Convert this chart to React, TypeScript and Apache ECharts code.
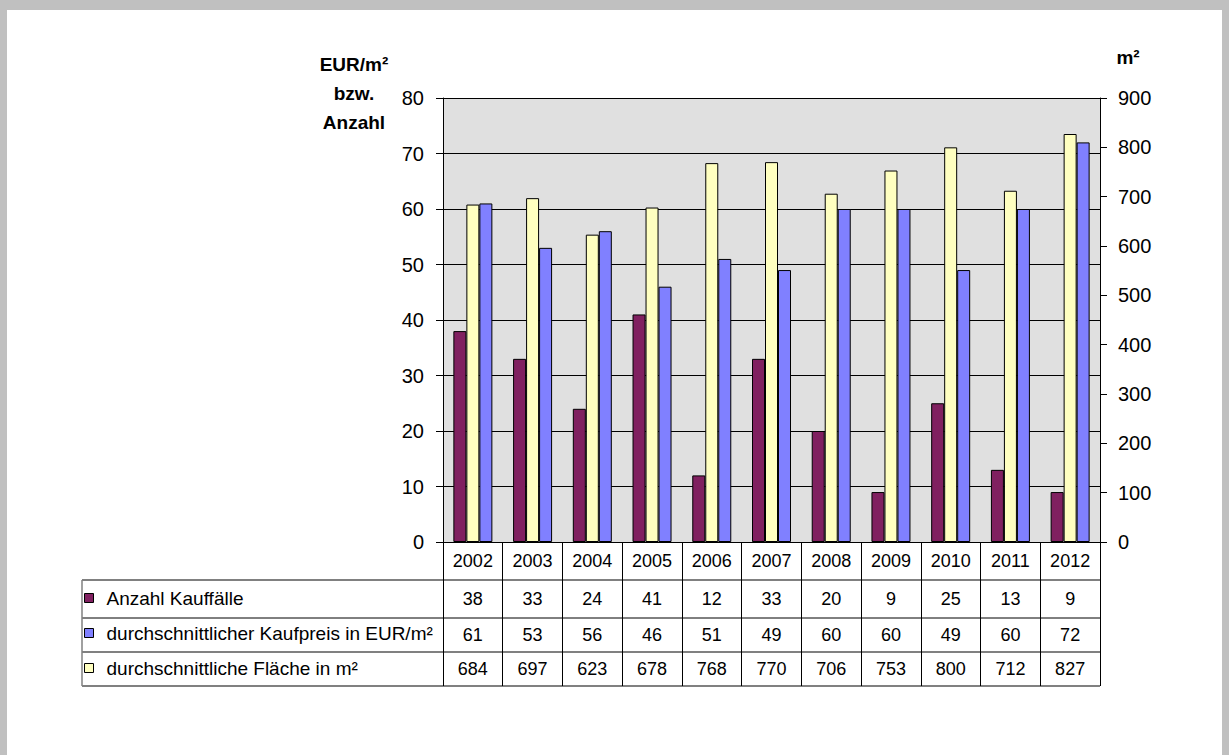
import React, { useEffect, useRef } from "react";
import * as echarts from "echarts";

const years = ["2002", "2003", "2004", "2005", "2006", "2007", "2008", "2009", "2010", "2011", "2012"];
const anzahl = [38, 33, 24, 41, 12, 33, 20, 9, 25, 13, 9];
const kaufpreis = [61, 53, 56, 46, 51, 49, 60, 60, 49, 60, 72];
const flaeche = [684, 697, 623, 678, 768, 770, 706, 753, 800, 712, 827];

const nameAnzahl = "Anzahl Kauffälle";
const nameKaufpreis = "durchschnittlicher Kaufpreis in EUR/m²";
const nameFlaeche = "durchschnittliche Fläche in m²";

const FONT = "'Liberation Sans', Arial, sans-serif";

export default function App() {
  const ref = useRef<HTMLDivElement>(null);
  useEffect(() => {
    if (!ref.current) return;
    const chart = echarts.init(ref.current, null, { renderer: "svg" });
    const rowAxis = (vals: number[], offset: number, margin: number) => ({
      type: "category",
      data: years,
      gridIndex: 0,
      position: "bottom",
      offset,
      axisLine: { show: false },
      axisTick: { show: false },
      splitLine: { show: false },
      axisLabel: {
        interval: 0,
        margin,
        fontSize: 18,
        color: "#000",
        fontFamily: FONT,
        formatter: (_v: string, i: number) => String(vals[i]),
      },
    });
    const barStyle = (color: string) => ({ color, borderColor: "#000", borderWidth: 1 });
    chart.setOption({
      animation: false,
      backgroundColor: "#fff",
      textStyle: { fontFamily: FONT },
      grid: {
        left: 443,
        right: 129,
        top: 98,
        bottom: 213,
        show: true,
        backgroundColor: "#E0E0E0",
        borderWidth: 0,
      },
      legend: {
        orient: "vertical",
        left: 84,
        top: 588,
        padding: 0,
        itemWidth: 9,
        itemHeight: 9,
        itemGap: 15,
        icon: "rect",
        selectedMode: false,
        data: [nameAnzahl, nameKaufpreis, nameFlaeche],
        itemStyle: { borderColor: "#000", borderWidth: 1 },
        textStyle: { fontSize: 19, color: "#000", fontFamily: FONT, lineHeight: 20, padding: [0, 0, 0, 8] },
      },
      xAxis: [
        {
          type: "category",
          data: years,
          position: "bottom",
          axisLine: { show: true, lineStyle: { color: "#000", width: 1 } },
          axisTick: { show: true, length: 144, lineStyle: { color: "#000", width: 1 } },
          axisLabel: { interval: 0, margin: 10, fontSize: 18, color: "#000", fontFamily: FONT },
          splitLine: { show: false },
        },
        rowAxis(anzahl, 38, 10),
        rowAxis(kaufpreis, 76, 8),
        rowAxis(flaeche, 110, 8),
      ],
      yAxis: [
        {
          type: "value",
          position: "left",
          min: 0,
          max: 80,
          interval: 10,
          axisLine: { show: true, lineStyle: { color: "#000", width: 1 } },
          axisTick: { show: true, length: 7, lineStyle: { color: "#000" } },
          axisLabel: { margin: 19, fontSize: 20, color: "#000", fontFamily: FONT },
          splitLine: { show: true, lineStyle: { color: "#000", width: 1 } },
        },
        {
          type: "value",
          position: "right",
          min: 0,
          max: 900,
          interval: 100,
          axisLine: { show: true, lineStyle: { color: "#000", width: 1 } },
          axisTick: { show: true, length: 7, lineStyle: { color: "#000" } },
          axisLabel: { margin: 18, fontSize: 20, color: "#000", fontFamily: FONT },
          splitLine: { show: false },
        },
      ],
      series: [
        {
          name: nameAnzahl,
          type: "bar",
          xAxisIndex: 0,
          yAxisIndex: 0,
          data: anzahl,
          barWidth: 13,
          barGap: "0%",
          itemStyle: barStyle("#802060"),
        },
        {
          name: nameFlaeche,
          type: "bar",
          xAxisIndex: 0,
          yAxisIndex: 1,
          data: flaeche,
          barWidth: 13,
          barGap: "0%",
          itemStyle: barStyle("#FFFFC0"),
        },
        {
          name: nameKaufpreis,
          type: "bar",
          xAxisIndex: 0,
          yAxisIndex: 0,
          data: kaufpreis,
          barWidth: 13,
          barGap: "0%",
          itemStyle: barStyle("#8080FF"),
        },
      ],
      graphic: [
        // outer gray frame
        { type: "rect", shape: { x: 0, y: 0, width: 1229, height: 10 }, style: { fill: "#C0C0C0" }, silent: true },
        { type: "rect", shape: { x: 0, y: 0, width: 7, height: 755 }, style: { fill: "#C0C0C0" }, silent: true },
        { type: "rect", shape: { x: 1222, y: 0, width: 7, height: 755 }, style: { fill: "#C0C0C0" }, silent: true },
        // axis titles
        {
          type: "text",
          x: 354,
          y: 93,
          style: {
            text: "EUR/m²\nbzw.\nAnzahl",
            font: `bold 19px ${FONT}`,
            fill: "#000",
            align: "center",
            verticalAlign: "middle",
            lineHeight: 29,
          },
        },
        {
          type: "text",
          x: 1128,
          y: 57,
          style: { text: "m²", font: `bold 19px ${FONT}`, fill: "#000", align: "center", verticalAlign: "middle" },
        },
        // data table lines
        { type: "line", shape: { x1: 82, y1: 580, x2: 1100, y2: 580 }, style: { stroke: "#808080", lineWidth: 2 } },
        { type: "line", shape: { x1: 82, y1: 618, x2: 1100, y2: 618 }, style: { stroke: "#000", lineWidth: 1 } },
        { type: "line", shape: { x1: 82, y1: 652, x2: 1100, y2: 652 }, style: { stroke: "#808080", lineWidth: 2 } },
        { type: "line", shape: { x1: 82, y1: 686, x2: 1100, y2: 686 }, style: { stroke: "#808080", lineWidth: 2 } },
        { type: "line", shape: { x1: 82, y1: 580, x2: 82, y2: 686 }, style: { stroke: "#808080", lineWidth: 1.5 } },
      ],
    });
    return () => chart.dispose();
  }, []);
  return (
    <div
      ref={ref}
      style={{ position: "absolute", left: 0, top: 0, width: 1229, height: 755 }}
    />
  );
}
